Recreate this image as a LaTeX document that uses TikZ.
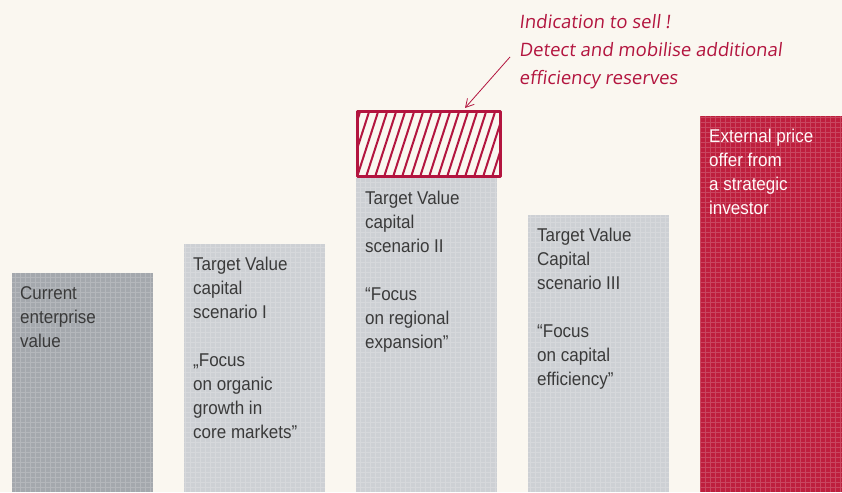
\documentclass[tikz,border=0pt]{standalone}
\usepackage{fontspec}
\setmainfont{Liberation Sans}[FakeStretch=0.92]
\newfontfamily\handfont{Open Sans}[FakeSlant=0.12]
\usetikzlibrary{arrows.meta}

\definecolor{paper}{HTML}{FAF7F0}
\definecolor{bardark}{HTML}{A4A8AD}
\definecolor{barlight}{HTML}{CDD0D4}
\definecolor{barred}{HTML}{BE1E3D}
\definecolor{inkred}{HTML}{B3153F}
\definecolor{textgray}{HTML}{3A3A3A}

\begin{document}
\begin{tikzpicture}[x=1pt,y=1pt,
  bartext/.style={anchor=north west,inner sep=0pt,align=left,text=textgray,
    font=\fontsize{18.5}{24}\selectfont},
  gridline/.style={white,opacity=0.18,line width=0.7pt},
  hand/.style={anchor=north west,inner sep=0pt,align=left,text=inkred,
    font=\handfont\fontsize{18.5}{28}\selectfont}]
  % Background
  \fill[paper] (0,0) rectangle (842,492);
  \useasboundingbox (0,0) rectangle (842,492);

  % Draw bars
  \fill[bardark]  (12,0)  rectangle (153,219);
  \fill[barlight] (184,0) rectangle (325,248);
  \fill[barlight] (356,0) rectangle (497,314);
  \fill[barlight] (528,0) rectangle (669,277);
  \fill[barred]   (700,0) rectangle (842,376);
  \foreach \xa/\xb/\h in {12/153/219,184/325/248,356/497/314,528/669/277,700/842/376} {
    \begin{scope}
      \clip (\xa,0) rectangle (\xb,\h);
      \draw[gridline] (\xa,0) grid[step=5] (\xb,\h);
    \end{scope}
  }

  % Bar labels
  \node[bartext] (cur) at (20,206) {Current\\enterprise\\value};
  \node[bartext] (tv1) at (193,235) {Target Value\\capital\\scenario I\\[24pt]%
    „Focus\\on organic\\growth in\\core markets”};
  \node[bartext] (tv2) at (365,301) {Target Value\\capital\\scenario II\\[24pt]%
    “Focus\\on regional\\expansion”};
  \node[bartext] (tv3) at (537,264) {Target Value\\Capital\\scenario III\\[24pt]%
    “Focus\\on capital\\efficiency”};
  \node[bartext,text=white!90!pink] (ext) at (709,363)
    {External price\\offer from\\a strategic\\investor};

  % Hatched box on scenario II
  \begin{scope}
    \clip (357,315) rectangle (500,380);
    \foreach \i in {-30,-21,...,500}
      \draw[inkred,line width=2pt] (\i,315) -- (\i+21,380);
  \end{scope}
  \draw[inkred,line width=3pt,line join=round] (357,315) rectangle (500,380);

  % Handwritten note
  \node[hand] (note) at (519,478) {Indication to sell !\\Detect and mobilise additional\\efficiency reserves};
  \coordinate (tail) at (510,435);
  \coordinate (tip) at (465,384);
  \draw[inkred,line width=0.8pt,-{Straight Barb[length=8pt,width=9pt]}] (tail) -- (tip);
\end{tikzpicture}
\end{document}
